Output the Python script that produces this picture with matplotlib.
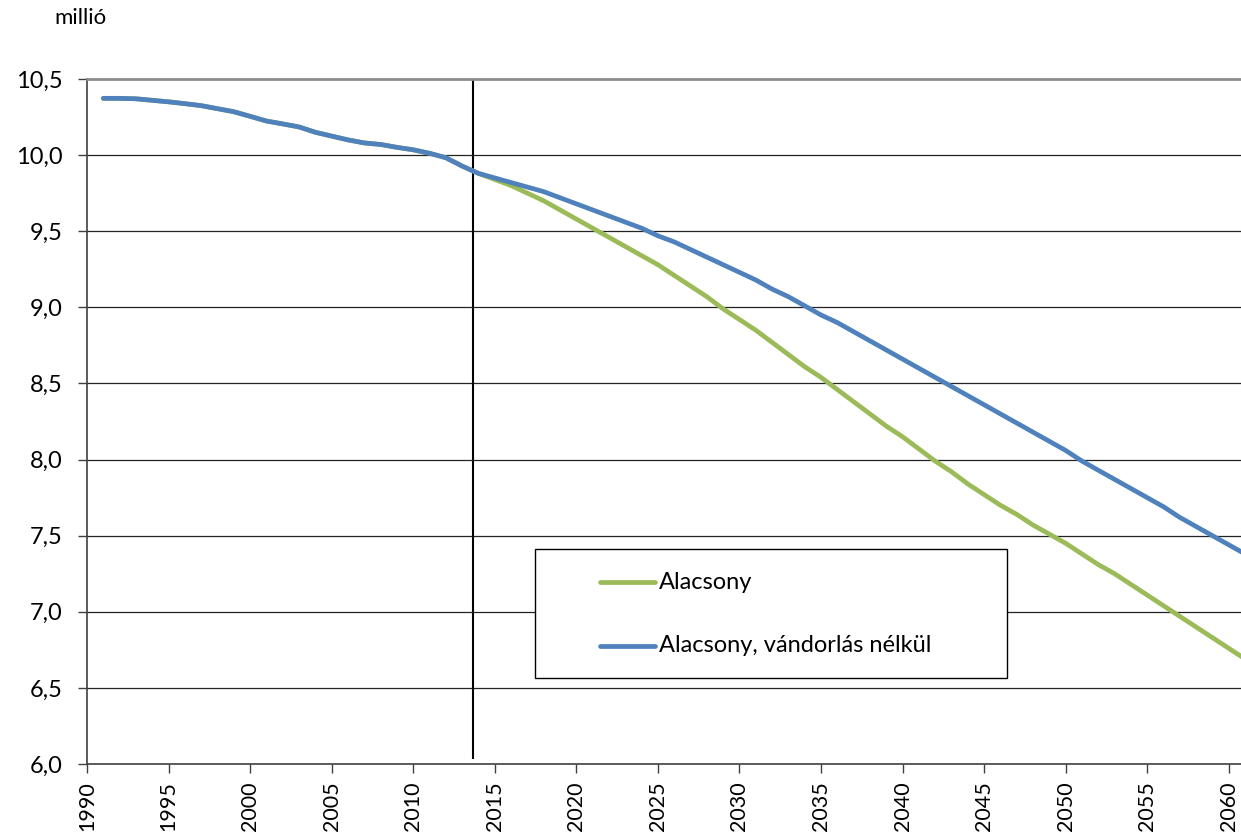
import matplotlib.pyplot as plt
from matplotlib.patches import Rectangle
from matplotlib.lines import Line2D

plt.rcParams['font.family'] = ['Lato', 'DejaVu Sans']

# observed population 1991-2013 (million)
hist_years = list(range(1991, 2014))
hist_pop = [10.373, 10.373, 10.370, 10.360, 10.350, 10.338, 10.325, 10.305,
            10.285, 10.255, 10.224, 10.205, 10.185, 10.150, 10.125, 10.100,
            10.080, 10.070, 10.051, 10.035, 10.012, 9.983, 9.928]

proj_years = list(range(2014, 2062))
low = [9.88, 9.84, 9.80, 9.75, 9.70, 9.64, 9.58, 9.52, 9.46, 9.40, 9.34, 9.28,
       9.21, 9.14, 9.07, 8.99, 8.92, 8.85, 8.77, 8.69, 8.61, 8.54, 8.46, 8.38,
       8.30, 8.22, 8.15, 8.07, 7.99, 7.92, 7.84, 7.77, 7.70, 7.64, 7.57, 7.51,
       7.45, 7.38, 7.31, 7.25, 7.18, 7.11, 7.04, 6.97, 6.90, 6.83, 6.76, 6.69]
low_nomig = [9.88, 9.85, 9.82, 9.79, 9.76, 9.72, 9.68, 9.64, 9.60, 9.56, 9.52,
             9.47, 9.43, 9.38, 9.33, 9.28, 9.23, 9.18, 9.12, 9.07, 9.01, 8.95,
             8.90, 8.84, 8.78, 8.72, 8.66, 8.60, 8.54, 8.48, 8.42, 8.36, 8.30,
             8.24, 8.18, 8.12, 8.06, 7.99, 7.93, 7.87, 7.81, 7.75, 7.69, 7.62,
             7.56, 7.50, 7.44, 7.38]

labels = ['Alacsony', 'Alacsony, vándorlás nélkül']
colors = ['#9BBB59', '#4F81BD']
split_year = 2013.67

fig = plt.figure(figsize=(12.41, 8.36), dpi=100)
ax = fig.add_axes([0.0701, 0.0861, 0.9299, 0.8194])

years = hist_years + proj_years
ln_low, = ax.plot(years, hist_pop + low, color=colors[0], lw=3.4,
                  solid_capstyle='round', solid_joinstyle='round', zorder=3)
ln_nm, = ax.plot(years, hist_pop + low_nomig, color=colors[1], lw=3.4,
                 solid_capstyle='round', solid_joinstyle='round', zorder=4)

ax.vlines(split_year, 6.03, 10.5, color='black', lw=1.5, zorder=2)

ax.set_xlim(1990, 2060.75)
ax.set_ylim(6.0, 10.5)
yt = [6.0 + 0.5 * i for i in range(10)]
ax.set_yticks(yt)
ax.set_yticklabels([f'{v:.1f}'.replace('.', ',') for v in yt], fontsize=17)
xt = list(range(1990, 2061, 5))
ax.set_xticks(xt)
ax.set_xticklabels([str(v) for v in xt], rotation=90, fontsize=15.5)
ax.tick_params(direction='out', length=6.5, width=1, color='#404040')
ax.tick_params(axis='y', pad=11)
ax.tick_params(axis='x', pad=6)

for v in yt[1:-1]:
    ax.axhline(v, color='#222222', lw=0.9, zorder=1)

for s in ['left', 'bottom']:
    ax.spines[s].set_color('#404040')
    ax.spines[s].set_linewidth(1.2)
ax.spines['top'].set_color('#8c8c8c')
ax.spines['top'].set_linewidth(2)
ax.spines['right'].set_visible(False)

# legend box
ax.add_patch(Rectangle((0.388, 0.1255), 0.409, 0.1885, transform=ax.transAxes,
                       facecolor='white', edgecolor='black', lw=1, zorder=6))
for ln, lab, yy in [(ln_low, labels[0], 0.2657), (ln_nm, labels[1], 0.1723)]:
    ax.add_line(Line2D([0.4445, 0.4922], [yy, yy], transform=ax.transAxes,
                       color=ln.get_color(), lw=3.4, solid_capstyle='round',
                       zorder=7))
    ax.text(0.4955, yy, lab, transform=ax.transAxes, va='center', ha='left',
            fontsize=17, zorder=7)

fig.text(0.044, 0.979, 'millió', fontsize=16, va='center', ha='left')

fig.savefig('out.png', dpi=100)
